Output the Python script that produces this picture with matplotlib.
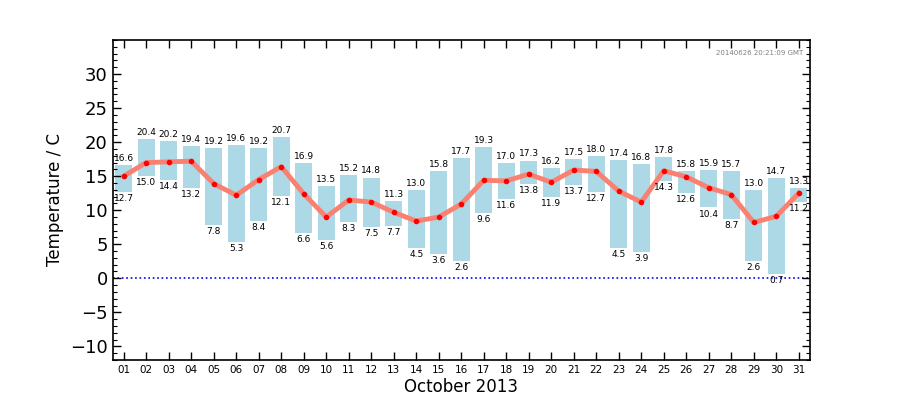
import matplotlib
matplotlib.use("Agg")
import matplotlib.pyplot as plt
from matplotlib.ticker import MultipleLocator

days = ["%02d" % d for d in range(1, 32)]
tmax = [16.6, 20.4, 20.2, 19.4, 19.2, 19.6, 19.2, 20.7, 16.9, 13.5, 15.2, 14.8, 11.3, 13.0, 15.8, 17.7,
        19.3, 17.0, 17.3, 16.2, 17.5, 18.0, 17.4, 16.8, 17.8, 15.8, 15.9, 15.7, 13.0, 14.7, 13.3]
tmin = [12.7, 15.0, 14.4, 13.2, 7.8, 5.3, 8.4, 12.1, 6.6, 5.6, 8.3, 7.5, 7.7, 4.5, 3.6, 2.6,
        9.6, 11.6, 13.8, 11.9, 13.7, 12.7, 4.5, 3.9, 14.3, 12.6, 10.4, 8.7, 2.6, 0.7, 11.2]
tmean = [15.0, 17.0, 17.1, 17.2, 13.9, 12.2, 14.5, 16.4, 12.4, 9.0, 11.5, 11.2, 9.7, 8.4, 9.0, 10.9,
         14.4, 14.3, 15.3, 14.1, 15.9, 15.7, 12.8, 11.2, 15.8, 14.9, 13.3, 12.3, 8.2, 9.1, 12.5]
yticks = [-10, -5, 0, 5, 10, 15, 20, 25, 30]
stamp = "20140626 20:21:09 GMT"
xlabel = "October 2013"
ylabel = "Temperature / C"

fig = plt.figure(figsize=(9, 4), dpi=100)
ax = fig.add_axes([0.125, 0.1, 0.775, 0.8])
x = list(range(1, 32))
heights = [a - b for a, b in zip(tmax, tmin)]
ax.bar(x, heights, bottom=tmin, width=0.75, color="lightblue", edgecolor="none", zorder=1)
for xi, hi, lo in zip(x, tmax, tmin):
    ax.text(xi, hi + 0.3, "%.1f" % hi, ha="center", va="bottom", fontsize=6.5, zorder=4)
    ax.text(xi, lo - 0.3, "%.1f" % lo, ha="center", va="top", fontsize=6.5, zorder=4)
ax.plot(x, tmean, color="salmon", lw=3.5, zorder=2, solid_joinstyle="round")
ax.plot(x, tmean, "o", color="red", ms=3, zorder=3, mec="red")
ax.axhline(0, color="blue", ls=":", lw=1.2, zorder=0)

ax.set_xlim(0.5, 31.5)
ax.set_ylim(-12, 35)
ax.set_xticks(x)
ax.set_xticklabels(days, fontsize=7.5)
ax.set_yticks(yticks)
ax.yaxis.set_minor_locator(MultipleLocator(1))
ax.tick_params(axis="y", labelsize=13)
ax.tick_params(which="both", direction="in", top=True, right=True)
ax.tick_params(which="major", length=6, width=1)
ax.tick_params(which="minor", length=3, width=0.8)
for s in ax.spines.values():
    s.set_linewidth(1.2)
ax.set_xlabel(xlabel, fontsize=12, labelpad=2)
ax.set_ylabel(ylabel, fontsize=12)
ax.text(0.99, 0.97, stamp, transform=ax.transAxes, ha="right", va="top", fontsize=5, color="gray")
fig.savefig("out.png", dpi=100)
